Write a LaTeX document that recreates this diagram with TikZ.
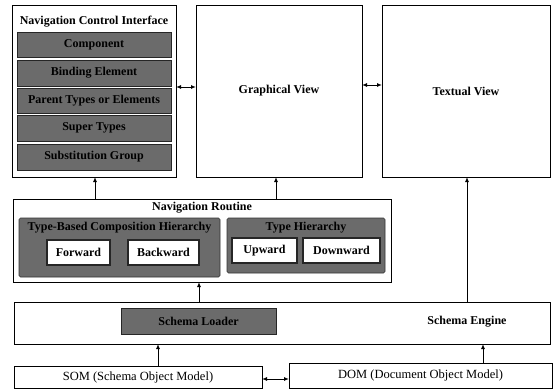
\documentclass[tikz,border=0pt]{standalone}
\usepackage{fontspec}
\setmainfont{Liberation Serif}
\usetikzlibrary{arrows.meta}
\tikzset{
  box/.style={draw=black, line width=0.9pt, fill=white},
  darkbox/.style={draw=black!80, line width=0.6pt, fill=black!58, rounded corners=1.5pt},
  bar/.style={draw=black!85, line width=0.6pt, fill=black!58},
  whitebox/.style={draw=black!85, line width=1.2pt, fill=white},
  lbl/.style={font=\fontsize{12}{14}\selectfont\bfseries, inner sep=0pt},
  lblreg/.style={font=\fontsize{12.5}{14}\selectfont, inner sep=0pt},
  conn/.style={line width=1pt, -{Latex[length=5pt,width=4pt]}},
  biconn/.style={line width=1pt, {Latex[length=5pt,width=4pt]}-{Latex[length=5pt,width=4pt]}},
}
\begin{document}
\begin{tikzpicture}[x=1pt,y=-1pt]
\useasboundingbox (0,0) rectangle (555,389);

% Navigation control interface with its five entries
\draw[box] (12,5) rectangle (176,177);
\node[lbl] (ncititle) at (94,22) {Navigation Control Interface};
\draw[bar] (17,32) rectangle node[lbl] (comp) {Component} (171,57);
\draw[bar] (17,60) rectangle node[lbl] (bind) {Binding Element} (171,86);
\draw[bar] (17,88) rectangle node[lbl] (parent) {Parent Types or Elements} (171,113);
\draw[bar] (17,115) rectangle node[lbl] (super) {Super Types} (171,141);
\draw[bar] (17,144) rectangle node[lbl] (subst) {Substitution Group} (171,170);
\coordinate (nciR) at (176,87);
\coordinate (nciB) at (95,177);

% Views
\draw[box] (196,5) rectangle node[lbl] (gv) {Graphical View} (362,177);
\coordinate (gvL) at (196,87);
\coordinate (gvR) at (362,85);
\coordinate (gvB) at (276,177);
\draw[box] (382,5) rectangle node[lbl] (tv) {Textual View} (550,177);
\coordinate (tvL) at (382,85);
\coordinate (tvB) at (467,177);

% Navigation routine
\draw[box] (13,199) rectangle (391,282);
\node[lbl] (nrtitle) at (202,208) {Navigation Routine};
\coordinate (nrT1) at (95,199);
\coordinate (nrT2) at (276,199);
\coordinate (nrB) at (199,282);
\draw[darkbox] (19,218) rectangle (220,277);
\node[lbl] (tbch) at (119.5,228) {Type-Based Composition Hierarchy};
\draw[whitebox] (47,240) rectangle node[lbl] (fwd) {Forward} (110,265);
\draw[whitebox] (128,240) rectangle node[lbl] (bwd) {Backward} (199,265);
\draw[darkbox] (227,218) rectangle (385,273);
\node[lbl] (th) at (306,228) {Type Hierarchy};
\draw[whitebox] (232,238) rectangle node[lbl] (up) {Upward} (297,263);
\draw[whitebox] (303,238) rectangle node[lbl] (down) {Downward} (380,263);

% Schema engine
\draw[box] (14,302) rectangle (550,344);
\node[lbl] (se) at (467,322) {Schema Engine};
\draw[bar] (121,308) rectangle node[lbl] (sl) {Schema Loader} (276,334);
\coordinate (seT1) at (199,302);
\coordinate (seT2) at (467,302);
\coordinate (seB1) at (158,344);
\coordinate (seB2) at (483,344);

% Object models
\draw[box] (14,366) rectangle node[lblreg] (som) {SOM (Schema Object Model)} (262,388);
\draw[box] (289,363) rectangle node[lblreg] (dom) {DOM (Document Object Model)} (552,388);
\coordinate (somT) at (158,366);
\coordinate (somR) at (262,379);
\coordinate (domT) at (483,363);
\coordinate (domL) at (289,379);

% Connectors
\draw[biconn] (nciR) -- (gvL);
\draw[biconn] (gvR) -- (tvL);
\draw[conn] (nrT1) -- (nciB);
\draw[conn] (nrT2) -- (gvB);
\draw[conn] (seT1) -- (nrB);
\draw[conn] (seT2) -- (tvB);
\draw[conn] (somT) -- (seB1);
\draw[conn] (domT) -- (seB2);
\draw[biconn] (somR) -- (domL);
\end{tikzpicture}
\end{document}
